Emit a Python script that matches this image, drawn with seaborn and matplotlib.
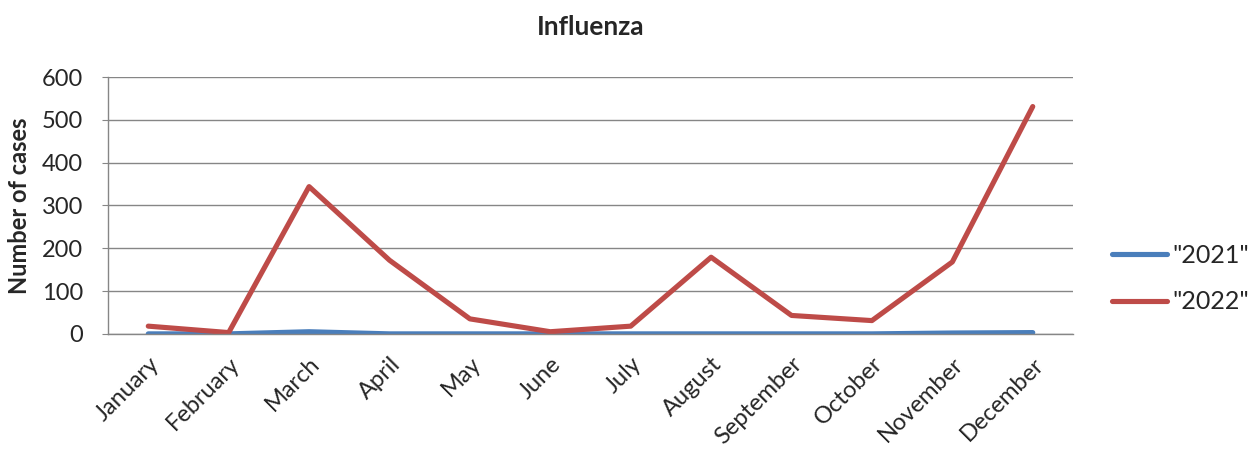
import pandas as pd
import numpy as np
import matplotlib.pyplot as plt
import seaborn as sns

# values
months = ["January", "February", "March", "April", "May", "June",
          "July", "August", "September", "October", "November", "December"]
cases_2021 = [0, 0, 5, 0, 0, 0, 0, 0, 0, 0, 2, 3]
cases_2022 = [18, 3, 344, 172, 35, 5, 18, 179, 43, 31, 168, 531]
years = ['"2021"', '"2022"']
colors = ["#4A7EBB", "#BE4B48"]

df = pd.DataFrame({
    "month": months * 2,
    "cases": cases_2021 + cases_2022,
    "year": [years[0]] * 12 + [years[1]] * 12,
})

sns.set_style("white")
plt.rcParams["font.family"] = ["Lato", "DejaVu Sans"]

fig = plt.figure(figsize=(12.58, 4.53), dpi=100)
ax = fig.add_axes([0.0859, 0.263, 0.767, 0.567])

sns.lineplot(data=df, x="month", y="cases", hue="year", palette=colors,
             linewidth=3.7, ax=ax, legend=False, sort=False)

ax.set_xlim(-0.5, 11.5)
ax.set_ylim(0, 600)
ax.set_yticks(np.arange(0, 601, 100))
ax.yaxis.grid(True, color="#868686", linewidth=1)
ax.set_axisbelow(True)

for side in ["top", "right"]:
    ax.spines[side].set_visible(False)
for side in ["left", "bottom"]:
    ax.spines[side].set_color("#868686")
    ax.spines[side].set_linewidth(1)

ax.tick_params(axis="y", labelsize=17, length=4, color="#868686", left=True, pad=14)
ax.tick_params(axis="x", labelsize=17, length=0, pad=14)
ax.set_xticks(range(len(months)))
ax.set_xticklabels(months, rotation=45, ha="right", rotation_mode="anchor")

ax.set_xlabel("")
ax.set_ylabel("Number of cases", fontsize=17, fontweight="bold", labelpad=8)
ax.set_title("Influenza", fontsize=19, fontweight="bold", pad=30)

handles = [plt.Line2D([], [], color=c, linewidth=3.7, solid_capstyle="round") for c in colors]
fig.legend(handles, years, loc="center left", bbox_to_anchor=(0.884, 0.385),
           frameon=False, fontsize=18, handlelength=2.2, labelspacing=0.95,
           handletextpad=0.2, borderpad=0, borderaxespad=0)

fig.savefig("out.png", dpi=100)
